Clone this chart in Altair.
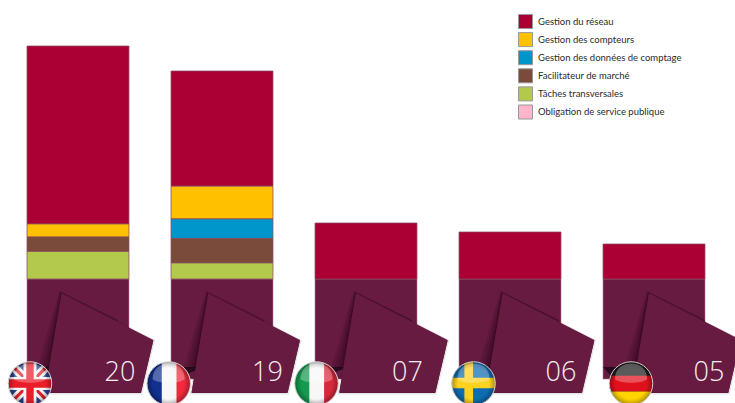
import math
import altair as alt
import pandas as pd

# Countries and the cost categories stacked above each dark plinth
COUNTRIES = ["Royaume-Uni", "France", "Italie", "Suède", "Allemagne"]
TOTAL_LABELS = ["20", "19", "07", "06", "05"]
CATEGORIES = [
    "Gestion du réseau",
    "Gestion des compteurs",
    "Gestion des données de comptage",
    "Facilitateur de marché",
    "Tâches transversales",
    "Obligation de service publique",
]
COLORS = ["#AB0033", "#FFC000", "#0096CC", "#7A4B3A", "#B2C94C", "#FFB6CC"]

RESEAU = [13.11, 9.10, 7.0, 6.0, 5.0]
COMPTEURS = [1.31, 2.58, 0, 0, 0]
DONNEES = [0, 1.86, 0, 0, 0]
FACILITATEUR = [1.65, 3.17, 0, 0, 0]
TRANSVERSALES = [3.93, 2.29, 0, 0, 0]
OBLIGATION = [0, 0, 0, 0, 0]
SERIES = [RESEAU, COMPTEURS, DONNEES, FACILITATEUR, TRANSVERSALES, OBLIGATION]

# Decorative element placement, relative to each bar centre
FOLD_DX = [0, 2.6, 6.3, 9, 11.3]
TEXT_DX = [42, 45.5, 41.5, 51, 55]
FLAG_DX = [-48, -53.3, -49.5, -36.5, -23]
FLAG_SIZE = 43.5 ** 2
PLINTH_BOTTOM = -14.29
FOLD_Y = -9.11
FLAG_Y = -14.93
TEXT_Y = -14.53
WEDGE_Y = -12.57

rows = []
for c, country in enumerate(COUNTRIES):
    for s, category in enumerate(CATEGORIES):
        if SERIES[s][c] > 0:
            rows.append({"country": country, "category": category, "value": SERIES[s][c], "rank": -s})
bars_df = pd.DataFrame(rows)

x_scale = alt.Scale(domain=COUNTRIES, range=[-1.5, 733.5], paddingInner=0.292, paddingOuter=0.198)
y_scale = alt.Scale(
    domain=[-17.714, 0, 5, 6, 7, 19, 20, 21.84],
    range=[403, 279, 244, 232, 223, 71, 46, 0],
    zero=False,
    nice=False,
)
X = alt.X("country:N", scale=x_scale, axis=None, sort=COUNTRIES)


def Y(field="y"):
    return alt.Y(f"{field}:Q", scale=y_scale, axis=None)


def at(country, y):
    return pd.DataFrame([{"country": country, "y": y}])


def path(points):
    return "M" + " L".join(f"{px / 50:.3f},{py / 50:.3f}" for px, py in points) + " Z"


def band(theta, a, b):
    """Slice of the unit circle between offsets a and b along the direction theta."""
    ux, uy = math.cos(theta), math.sin(theta)
    vx, vy = -uy, ux
    ha = math.sqrt(max(0, 1 - a * a))
    hb = math.sqrt(max(0, 1 - b * b))

    def pt(u, v):
        return f"{u * ux + v * vx:.3f},{u * uy + v * vy:.3f}"

    return (
        f"M{pt(a, ha)} A1,1 0 0 0 {pt(b, hb)} L{pt(b, -hb)} A1,1 0 0 0 {pt(a, -ha)} Z"
    )


V, H = 0.0, math.pi / 2
D1, D2 = math.pi / 4, -math.pi / 4
FLAGS = {
    "Royaume-Uni": [
        (band(V, -1, 1), "#2B3F8F"),
        (band(D1, -0.2, 0.2), "#F2F2F2"),
        (band(D2, -0.2, 0.2), "#F2F2F2"),
        (band(D1, -0.07, 0.07), "#E0202C"),
        (band(D2, -0.07, 0.07), "#E0202C"),
        (band(V, -0.3, 0.3), "#F5F5F5"),
        (band(H, -0.3, 0.3), "#F5F5F5"),
        (band(V, -0.17, 0.17), "#EA1D2A"),
        (band(H, -0.2, 0.2), "#EA1D2A"),
    ],
    "France": [
        (band(V, -1, 1), "#F7F7F7"),
        (band(V, -1, -0.32), "#12308F"),
        (band(V, 0.36, 1), "#EE2A3C"),
    ],
    "Italie": [
        (band(V, -1, 1), "#F7F7F7"),
        (band(V, -1, -0.33), "#149A4E"),
        (band(V, 0.35, 1), "#D8283C"),
    ],
    "Suède": [
        (band(V, -1, 1), "#0F6CB0"),
        (band(V, -0.42, -0.02), "#FFD21F"),
        (band(H, -0.26, 0.22), "#FFD21F"),
    ],
    "Allemagne": [
        (band(V, -1, 1), "#1C1C1C"),
        (band(H, -0.36, 0.37), "#E0101C"),
        (band(H, 0.37, 1), "#FFD400"),
    ],
}
GLOSS = "M-0.74,-0.2 C-0.74,-0.72 -0.35,-0.92 0,-0.92 C0.35,-0.92 0.74,-0.72 0.74,-0.2 C0.45,0.02 -0.45,0.02 -0.74,-0.2 Z"

# Five-sided fold laid over each plinth, in pixels around its own centre
FOLD = [(-16.3, -49.5), (75.3, -2.8), (63, 49.5), (-33, 49.5)]
APEX = FOLD[0]
CROSS = (APEX[0] + 56, APEX[1] + 28.6)
LEFT_LOW = (APEX[0] - 12.7, APEX[1] + 74)

layers = []

# Dark plinth under every stack
plinths = pd.DataFrame({"country": COUNTRIES, "y": [0] * 5, "y2": [PLINTH_BOTTOM] * 5})
layers.append(
    alt.Chart(plinths)
    .mark_bar(color="#671B41", stroke="#A8708C", strokeWidth=0.8, strokeOpacity=0.7)
    .encode(x=X, y=Y(), y2="y2:Q")
)

# Stacked cost categories with the legend
layers.append(
    alt.Chart(bars_df)
    .mark_bar(stroke="#8A4A5E", strokeWidth=1, strokeOpacity=0.75)
    .encode(
        x=X,
        y=alt.Y("value:Q", stack="zero", scale=y_scale, axis=None),
        color=alt.Color(
            "category:N",
            scale=alt.Scale(domain=CATEGORIES, range=COLORS),
            legend=alt.Legend(
                orient="none",
                legendX=518,
                legendY=14,
                title=None,
                symbolType="square",
                symbolSize=196,
                symbolStrokeColor="#999999",
                symbolStrokeWidth=1,
                rowPadding=-0.9,
                labelFont="Lato",
                labelFontSize=9.5,
                labelColor="#2A2A2A",
                labelOffset=5,
                labelLimit=220,
            ),
        ),
        order=alt.Order("rank:Q", sort="ascending"),
    )
)

for i, country in enumerate(COUNTRIES):
    # Dark wedge in the plinth's lower corner
    wedge = path([(0, 0), (33, 0), (9, 10)])
    layers.append(
        alt.Chart(at(country, WEDGE_Y))
        .mark_point(shape=wedge, filled=True, size=10000, color="#2A0A1E", opacity=1, xOffset=-51)
        .encode(x=X, y=Y())
    )

    # Soft shadow of the fold on the plinth, built from widening translucent fans
    for d in (12, 9, 6, 4, 2):
        fan = path(
            [
                CROSS,
                APEX,
                LEFT_LOW,
                (LEFT_LOW[0] - d, LEFT_LOW[1]),
                (APEX[0] - d * 0.2, APEX[1] - d * 0.2),
                (CROSS[0], CROSS[1] - d * 0.2),
            ]
        )
        layers.append(
            alt.Chart(at(country, FOLD_Y))
            .mark_point(shape=fan, filled=True, size=10000, color="#1E0212", opacity=0.12, xOffset=FOLD_DX[i])
            .encode(x=X, y=Y())
        )

    # Faint halo under the fold, then the fold
    layers.append(
        alt.Chart(at(country, FOLD_Y))
        .mark_point(
            shape=path(FOLD), filled=True, size=10000, color="#671B41",
            stroke="#000000", strokeWidth=3, strokeOpacity=0.1, opacity=1,
            xOffset=FOLD_DX[i], yOffset=0.8,
        )
        .encode(x=X, y=Y())
    )
    layers.append(
        alt.Chart(at(country, FOLD_Y))
        .mark_point(shape=path(FOLD), filled=True, size=10000, color="#671B41", opacity=1, xOffset=FOLD_DX[i])
        .encode(x=X, y=Y())
    )

    # Total printed on the fold
    label_df = at(country, TEXT_Y).assign(label=TOTAL_LABELS[i])
    layers.append(
        alt.Chart(label_df)
        .mark_text(
            font="Open Sans", fontSize=27, fontWeight=300, color="#F4EEF1",
            align="center", baseline="alphabetic", xOffset=TEXT_DX[i],
        )
        .encode(x=X, y=Y(), text="label:N")
    )

for i, country in enumerate(COUNTRIES):
    flag_df = at(country, FLAG_Y)
    for shape_path, fill in FLAGS[country]:
        layers.append(
            alt.Chart(flag_df)
            .mark_point(shape=shape_path, filled=True, size=FLAG_SIZE, color=fill, opacity=1, xOffset=FLAG_DX[i])
            .encode(x=X, y=Y())
        )
    # Rim shading and top highlight of the glass button
    layers.append(
        alt.Chart(flag_df)
        .mark_circle(
            size=FLAG_SIZE,
            opacity=1,
            fill=alt.Gradient(
                gradient="radial",
                stops=[
                    alt.GradientStop(color="rgba(0,0,0,0)", offset=0.0),
                    alt.GradientStop(color="rgba(0,0,0,0)", offset=0.72),
                    alt.GradientStop(color="rgba(0,0,0,0.32)", offset=1.0),
                ],
                x1=0.5, y1=0.5, r1=0, x2=0.5, y2=0.5, r2=0.5,
            ),
            stroke="#CFCFCF",
            strokeWidth=1,
            xOffset=FLAG_DX[i],
        )
        .encode(x=X, y=Y())
    )
    layers.append(
        alt.Chart(flag_df)
        .mark_point(shape=GLOSS, filled=True, size=FLAG_SIZE, color="#FFFFFF", opacity=0.28, xOffset=FLAG_DX[i])
        .encode(x=X, y=Y())
    )

chart = (
    alt.layer(*layers)
    .properties(width=735, height=403, padding=0, autosize=alt.AutoSizeParams(type="none"), background="#FFFFFF")
    .configure_view(stroke=None)
)

chart.save("out.html", embed_options={"renderer": "svg", "actions": False})
